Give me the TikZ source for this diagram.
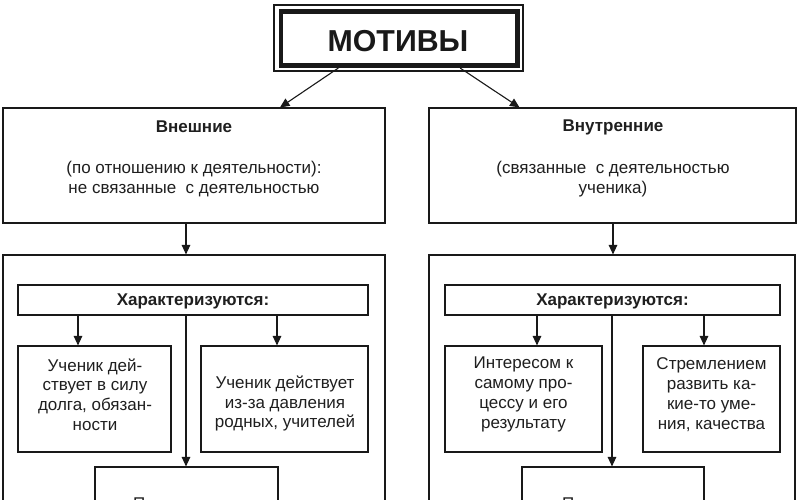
\documentclass[tikz,border=0pt]{standalone}
\usepackage{fontspec}
\setmainfont{Liberation Sans}
\usetikzlibrary{arrows.meta}
\begin{document}
\begin{tikzpicture}[x=1pt,y=-1pt,
  frame/.style args={#1x#2}{draw=black!90, line width=1.1pt, minimum width=#1pt, minimum height=#2pt, inner sep=0pt},
  txt/.style={font=\fontsize{17}{19.8}\selectfont, align=center, inner sep=0pt, text=black!88},
  btxt/.style={txt, font=\fontsize{17}{19.8}\selectfont\bfseries},
  arr/.style={draw=black!90, line width=1.1pt, -{Triangle[length=9.5pt,width=8.5pt]}},
  plain/.style={draw=black!90, line width=1.1pt}]
\useasboundingbox (0,0) rectangle (800,500);
\clip (0,0) rectangle (800,500);
\fill[white] (0,0) rectangle (800,500);

% title
\node[frame=236.5x54, line width=4.7pt] (mot) at (399.25,38.75) {};
\node[frame=249x66, line width=1.1pt] (motf) at (398.5,38) {};
\node[inner sep=0pt, font=\fontsize{30.3}{33}\selectfont\bfseries, text=black!90] (motT) at (398,41) {МОТИВЫ};

% upper boxes
\node[frame=382x115] (ext) at (194,165.5) {};
\node[btxt] (extT) at (194,127) {Внешние};
\node[txt] (extD) at (194,179) {(по отношению к деятельности):\\не связанные \ с деятельностью};

\node[frame=367x115] (int) at (612.5,165.5) {};
\node[btxt] (intT) at (613,127) {Внутренние};
\node[txt] (intD) at (613,179) {(связанные \ с деятельностью\\ученика)};

\draw[arr] ([xshift=-61pt]mot.south) -- ([xshift=86pt]ext.north);
\draw[arr] ([xshift=61pt]mot.south) -- ([xshift=-93pt]int.north);

% containers
\node[frame=382x275] (extC) at (194,392.5) {};
\node[frame=366x275] (intC) at (612,392.5) {};
\draw[arr] ([xshift=-8pt]ext.south) -- ([xshift=-8pt]ext.south |- extC.north);
\draw[arr] ([xshift=0.5pt]int.south) -- ([xshift=0.5pt]int.south |- intC.north);

% left inner
\node[frame=350x30] (extK) at (193,300) {};
\node[btxt] (extKT) at (193,301) {Характеризуются:};
\node[frame=153x106] (extA) at (94.5,399) {};
\node[txt] (extAT) at (95,394.5) {Ученик дей-\\ствует в силу\\долга, обязан-\\ности};
\node[frame=167x106] (extB) at (284.5,399) {};
\node[txt] (extBT) at (285,403.5) {Ученик действует\\из-за давления\\родных, учителей};
\node[frame=183x73] (extP) at (186.5,503.5) {};
\node[txt, anchor=base west] (extPT) at (133,509) {П};

\draw[arr] ([xshift=-115pt]extK.south) -- ([xshift=-115pt]extK.south |- extA.north);
\draw[arr] ([xshift=84pt]extK.south) -- ([xshift=84pt]extK.south |- extB.north);
\draw[arr] ([xshift=-7pt]extK.south) -- ([xshift=-7pt]extK.south |- extP.north);

% right inner
\node[frame=335x30] (intK) at (612.5,300) {};
\node[btxt] (intKT) at (612.5,301) {Характеризуются:};
\node[frame=157x106] (intA) at (523.5,399) {};
\node[txt] (intAT) at (523.5,394.5) {Интересом к\\самому про-\\цессу и его\\результату};
\node[frame=137x106] (intB) at (711.5,399) {};
\node[txt] (intBT) at (711.5,394.5) {Стремлением\\развить ка-\\кие-то уме-\\ния, качества};
\node[frame=182x73] (intP) at (613,503.5) {};
\node[txt, anchor=base west] (intPT) at (562,509) {П};

\draw[arr] ([xshift=-75.5pt]intK.south) -- ([xshift=-75.5pt]intK.south |- intA.north);
\draw[arr] ([xshift=91.5pt]intK.south) -- ([xshift=91.5pt]intK.south |- intB.north);
\draw[arr] ([xshift=-0.5pt]intK.south) -- ([xshift=-0.5pt]intK.south |- intP.north);
\end{tikzpicture}
\end{document}
